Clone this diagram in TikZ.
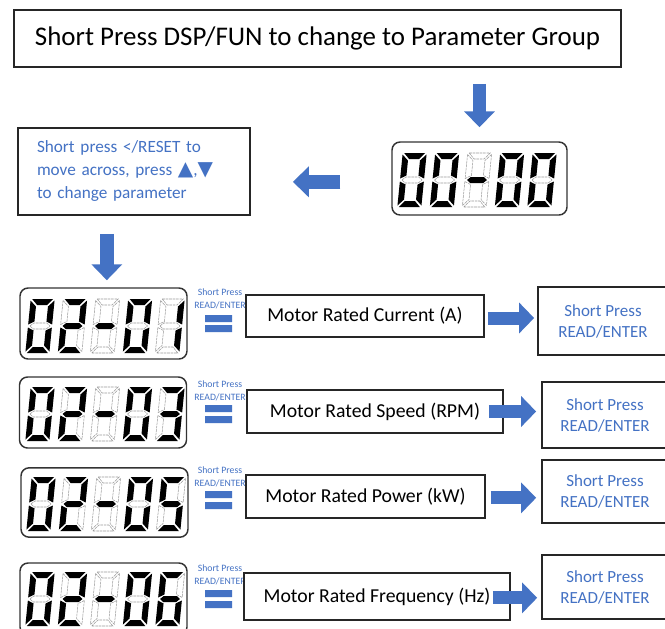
\documentclass[tikz,border=0pt]{standalone}
\usepackage{fontspec}
\setmainfont{Carlito}
\newfontfamily\symfont{DejaVu Sans}
\usetikzlibrary{arrows.meta}
\definecolor{obl}{HTML}{4472C4}
\def\dzero{1111110}
\def\done{0110000}
\def\dtwo{1101101}
\def\dthree{1111001}
\def\dfive{1011011}
\def\dsix{1011111}
\def\ddash{0000001}
\newcommand\segpoly[2]{\ifnum#1=1 \fill[segon] #2 -- cycle;\else\draw[segoff] #2 -- cycle;\fi}
\def\segbits#1#2#3#4#5#6#7\relax{%
 \segpoly{#1}{(-10.5,-27) -- (10.5,-27) -- (5,-21) -- (-5,-21)}%
 \segpoly{#2}{(12,-25.5) -- (6,-19.5) -- (6,-4.5) -- (12,-1.5)}%
 \segpoly{#3}{(12,1.5) -- (6,4.5) -- (6,19.5) -- (12,25.5)}%
 \segpoly{#4}{(-10.5,27) -- (10.5,27) -- (5,21) -- (-5,21)}%
 \segpoly{#5}{(-12,1.5) -- (-6,4.5) -- (-6,19.5) -- (-12,25.5)}%
 \segpoly{#6}{(-12,-25.5) -- (-6,-19.5) -- (-6,-4.5) -- (-12,-1.5)}%
 \segpoly{#7}{(-10,0) -- (-6.5,-3) -- (6.5,-3) -- (10,0) -- (6.5,3) -- (-6.5,3)}%
}
\newcommand\sevseg[3]{\begin{scope}[shift={({#1},{#2})},xslant=0.1]\expandafter\segbits#3\relax\end{scope}}
\newcommand\lcddigits[7]{%
  \sevseg{#1-65}{#2}{#3}%
  \sevseg{#1-32.5}{#2}{#4}%
  \sevseg{#1}{#2}{#5}%
  \sevseg{#1+32.5}{#2}{#6}%
  \sevseg{#1+65}{#2}{#7}}
\begin{document}
\begin{tikzpicture}[x=0.75pt,y=-0.75pt,
  box/.style={draw=black!85,line width=1.3pt,inner sep=0pt,anchor=center,fill=white},
  lcdbox/.style={draw=black!80,line width=1.1pt,rounded corners=6pt,fill=white,inner sep=0pt},
  segon/.style={fill=black},
  segoff/.style={draw=black!40,line width=0.4pt,dash pattern=on 2pt off 0.6pt},
  barrow/.style={draw=obl,line width=10pt,-{Triangle[length=12pt,width=22.5pt]}},
  rarrow/.style={draw=obl,line width=9.75pt,-{Triangle[length=11.25pt,width=22.5pt]}},
  motor/.style={box,font=\fontsize{14.8}{18}\selectfont},
  srbox/.style={box,text=obl,align=center,font=\fontsize{12.75}{15.75}\selectfont},
  small/.style={text=obl,align=center,inner sep=0pt,font=\fontsize{7.3}{9.75}\selectfont},
  eqbar/.style={fill=obl}]
\fill[white] (0,0) rectangle (665,629);
\useasboundingbox (0,0) rectangle (665,629);

% top box
\node[box,minimum width=455.25pt,minimum height=42.75pt,font=\fontsize{20.2}{24}\selectfont] (top) at (317.5,38.5) {Short Press DSP/FUN to change to Parameter Group};

% hint box
\node[box,minimum width=174pt,minimum height=65.25pt,text width=145.5pt,align=left,text=obl,font=\fontsize{12.9}{17.25}\selectfont] (hint) at (134,171.5) {Short press </RESET to\\move across, press {\symfont\fontsize{15}{17}\selectfont ▲},{\symfont\fontsize{15}{17}\selectfont ▼}\\to change parameter};

% displays
\node[lcdbox,minimum width=131.25pt,minimum height=54.75pt] (lcd0) at (479.5,178.5) {};
\lcddigits{477}{180}{\dzero}{\dzero}{\ddash}{\dzero}{\dzero}

\node[lcdbox,minimum width=125.25pt,minimum height=53.25pt] (d1) at (103.5,323.5) {};
\lcddigits{105}{326}{\dzero}{\dtwo}{\ddash}{\dzero}{\done}
\node[lcdbox,minimum width=125.25pt,minimum height=53.25pt] (d2) at (103,412.5) {};
\lcddigits{105}{414}{\dzero}{\dtwo}{\ddash}{\dzero}{\dthree}
\node[lcdbox,minimum width=125.25pt,minimum height=52pt] (d3) at (104.5,502.5) {};
\lcddigits{106}{504}{\dzero}{\dtwo}{\ddash}{\dzero}{\dfive}
\node[lcdbox,minimum width=125.25pt,minimum height=54pt] (d4) at (103.5,599) {};
\lcddigits{105}{599}{\dzero}{\dtwo}{\ddash}{\dzero}{\dsix}

% small labels and equal bars
\node[small] (s1) at (220,298.5) {Short Press\\READ/ENTER};
\node[small] (s2) at (220,390.5) {Short Press\\READ/ENTER};
\node[small] (s3) at (220,476.5) {Short Press\\READ/ENTER};
\node[small] (s4) at (220,575) {Short Press\\READ/ENTER};
\fill[eqbar] (205,315) rectangle (232,322) (205,325) rectangle (232,332);
\fill[eqbar] (205,405) rectangle (232,412) (205,416) rectangle (232,423);
\fill[eqbar] (205,491) rectangle (232,498) (205,502) rectangle (232,509);
\fill[eqbar] (205,590) rectangle (232,597) (205,601) rectangle (232,608);

% motor boxes
\node[motor,minimum width=178.5pt,minimum height=31.5pt] (m1) at (365,316) {Motor Rated Current (A)};
\node[motor,minimum width=192pt,minimum height=32.25pt] (m2) at (375,411.5) {Motor Rated Speed (RPM)};
\node[motor,minimum width=179.25pt,minimum height=32.25pt] (m3) at (365.5,496.5) {Motor Rated Power (kW)};
\node[motor,minimum width=199.5pt,minimum height=35.25pt] (m4) at (377,596.5) {Motor Rated Frequency (Hz)};

% right boxes
\node[srbox,minimum width=97.5pt,minimum height=51pt] (r1) at (603,321) {Short Press\\READ/ENTER};
\node[srbox,minimum width=94.5pt,minimum height=49.5pt] (r2) at (605,415) {Short Press\\READ/ENTER};
\node[srbox,minimum width=94.5pt,minimum height=47.25pt] (r3) at (605,491.5) {Short Press\\READ/ENTER};
\node[srbox,minimum width=94.5pt,minimum height=48pt] (r4) at (605,587) {Short Press\\READ/ENTER};

% arrows
\draw[barrow,shorten <=12pt,shorten >=10.5pt] (top.south -| lcd0.north) -- (lcd0.north);
\draw[barrow,shorten <=38.25pt,shorten >=31.5pt] ([yshift=-2.5pt]lcd0.west) -- ([yshift=-2.5pt]lcd0.west -| hint.east);
\draw[barrow,shorten <=13.5pt,shorten >=5.25pt] ([xshift=2.5pt]d1.north |- hint.south) -- ([xshift=2.5pt]d1.north);
\draw[rarrow,shorten <=2.25pt,shorten >=2.25pt] ([yshift=-1.5pt]m1.east) -- ([yshift=-1.5pt]m1.east -| r1.west);
\draw[rarrow,shorten <=-11.25pt,shorten >=3.75pt] (m2.east) -- (m2.east -| r2.west);
\draw[rarrow,shorten <=3.75pt,shorten >=3.75pt] ([yshift=-1pt]m3.east) -- ([yshift=-1pt]m3.east -| r3.west);
\draw[rarrow,shorten <=-13.5pt,shorten >=3pt] ([yshift=-1pt]m4.east) -- ([yshift=-1pt]m4.east -| r4.west);
\end{tikzpicture}
\end{document}
